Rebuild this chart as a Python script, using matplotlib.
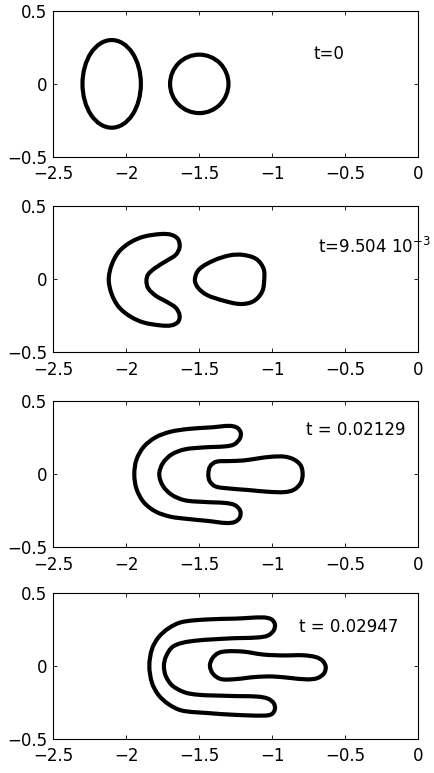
import numpy as np
import matplotlib
matplotlib.use("Agg")
from matplotlib import pyplot as plt
from matplotlib.patches import Ellipse, PathPatch
from matplotlib.path import Path

plt.rcParams["font.family"] = ["DejaVu Sans"]

# panel 1 (t=0): ellipse and circle, centre and full width/height
ellipse_center = (-2.1, 0.0)
ellipse_size = (0.40, 0.60)
circle_center = (-1.5, 0.0)
circle_size = (0.40, 0.40)

# panel 2 (t=9.504e-3)
crescent_x = [-2.12, -2.10, -2.05, -1.97, -1.88, -1.76, -1.69, -1.645, -1.635, -1.66,
              -1.72, -1.80, -1.85, -1.862, -1.85, -1.80, -1.72, -1.66, -1.635, -1.645,
              -1.69, -1.76, -1.88, -1.97, -2.05, -2.10]
crescent_y = [0.0, 0.10, 0.19, 0.255, 0.293, 0.311, 0.305, 0.275, 0.22, 0.17,
              0.13, 0.08, 0.035, -0.01, -0.06, -0.11, -0.155, -0.195, -0.245, -0.29,
              -0.314, -0.315, -0.295, -0.255, -0.19, -0.10]
drop_x = [-1.53, -1.50, -1.40, -1.29, -1.20, -1.11, -1.06, -1.055, -1.07, -1.13,
          -1.22, -1.335, -1.45, -1.51]
drop_y = [0.0, 0.07, 0.13, 0.165, 0.168, 0.14, 0.075, 0.0, -0.085, -0.15,
          -0.168, -0.145, -0.105, -0.055]

# panel 3 (t=0.02129)
u3_x = [-1.945, -1.93, -1.88, -1.80, -1.70, -1.575, -1.415, -1.290, -1.240, -1.216,
        -1.222, -1.260, -1.320, -1.461, -1.600, -1.690, -1.750, -1.774, -1.750, -1.690,
        -1.600, -1.461, -1.320, -1.255, -1.220, -1.222, -1.255, -1.313, -1.438, -1.590,
        -1.700, -1.800, -1.880, -1.930]
u3_y = [0.0, 0.10, 0.188, 0.252, 0.29, 0.310, 0.321, 0.331, 0.318, 0.285,
        0.245, 0.205, 0.191, 0.184, 0.170, 0.135, 0.075, 0.0, -0.078, -0.140,
        -0.178, -0.190, -0.197, -0.212, -0.250, -0.295, -0.326, -0.334, -0.320, -0.305,
        -0.290, -0.255, -0.192, -0.100]
finger3_x = [-1.438, -1.425, -1.385, -1.300, -1.200, -1.100, -1.004, -0.913, -0.850, -0.805,
             -0.792, -0.805, -0.850, -0.913, -1.027, -1.164, -1.301, -1.390, -1.428]
finger3_y = [0.0, 0.055, 0.085, 0.090, 0.094, 0.108, 0.120, 0.120, 0.100, 0.060,
             0.0, -0.060, -0.105, -0.122, -0.120, -0.108, -0.097, -0.083, -0.048]

# panel 4 (t=0.02947)
u4_x = [-1.842, -1.824, -1.780, -1.710, -1.620, -1.449, -1.250, -1.060, -1.004, -0.982,
        -0.990, -1.030, -1.100, -1.300, -1.564, -1.678, -1.728, -1.742, -1.728, -1.678,
        -1.564, -1.300, -1.100, -1.030, -0.990, -0.982, -1.004, -1.060, -1.250, -1.449,
        -1.620, -1.710, -1.780, -1.824]
u4_y = [0.0, 0.115, 0.195, 0.258, 0.300, 0.318, 0.324, 0.332, 0.318, 0.285,
        0.243, 0.208, 0.195, 0.188, 0.168, 0.134, 0.065, -0.003, -0.072, -0.140,
        -0.190, -0.205, -0.210, -0.224, -0.255, -0.295, -0.330, -0.340, -0.335, -0.322,
        -0.305, -0.262, -0.198, -0.115]
finger4_x = [-1.427, -1.410, -1.370, -1.313, -1.199, -1.062, -0.925, -0.788, -0.700, -0.655,
             -0.634, -0.645, -0.690, -0.760, -0.880, -1.000, -1.120, -1.250, -1.350, -1.405]
finger4_y = [0.0, 0.052, 0.088, 0.100, 0.098, 0.078, 0.072, 0.073, 0.060, 0.035,
             -0.005, -0.050, -0.083, -0.092, -0.082, -0.072, -0.076, -0.090, -0.090, -0.055]

labels = ["t=0", r"t=9.504 10$^{-3}$", "t = 0.02129", "t = 0.02947"]
xticks = [-2.5, -2, -1.5, -1, -0.5, 0]
yticks = [-0.5, 0, 0.5]


def closed_curve(xs, ys):
    """smooth closed bezier path going through every point"""
    pts = np.column_stack([xs, ys])
    n = len(pts)
    tang = np.roll(pts, -1, axis=0) - np.roll(pts, 1, axis=0)
    tang = tang / np.hypot(tang[:, 0], tang[:, 1])[:, None]
    verts = [pts[0]]
    codes = [Path.MOVETO]
    for i in range(n):
        a, b = pts[i], pts[(i + 1) % n]
        d = np.hypot(*(b - a)) / 3
        verts += [a + tang[i] * d, b - tang[(i + 1) % n] * d, b]
        codes += [Path.CURVE4] * 3
    verts.append(pts[0])
    codes.append(Path.CLOSEPOLY)
    return PathPatch(Path(verts, codes), fill=False, lw=3, ec="black",
                     joinstyle="round")


fig = plt.figure(figsize=(4.35, 7.73), dpi=100)
bottoms = [0.797, 0.544, 0.292, 0.044]
axes = [fig.add_axes([0.1225, b, 0.839, 0.189]) for b in bottoms]

for ax in axes:
    ax.set_xlim(-2.5, 0)
    ax.set_ylim(-0.5, 0.5)
    ax.set_xticks(xticks)
    ax.set_xticklabels(["\u22122.5", "\u22122", "\u22121.5", "\u22121", "\u22120.5", "0"])
    ax.set_yticks(yticks)
    ax.set_yticklabels(["\u22120.5", "0", "0.5"])
    ax.tick_params(direction="in", top=True, right=True, length=3, width=0.6,
                   labelsize=12, colors="black")
    ax.tick_params(axis="x", pad=6)
    ax.tick_params(axis="y", pad=4.5)
    for sp in ax.spines.values():
        sp.set_linewidth(0.8)

axes[0].add_patch(Ellipse(ellipse_center, *ellipse_size, fill=False, lw=3, ec="black"))
axes[0].add_patch(Ellipse(circle_center, *circle_size, fill=False, lw=3, ec="black"))
axes[1].add_patch(closed_curve(crescent_x, crescent_y))
axes[1].add_patch(closed_curve(drop_x, drop_y))
axes[2].add_patch(closed_curve(u3_x, u3_y))
axes[2].add_patch(closed_curve(finger3_x, finger3_y))
axes[3].add_patch(closed_curve(u4_x, u4_y))
axes[3].add_patch(closed_curve(finger4_x, finger4_y))

text_pos = [(-0.72, 0.17), (-0.69, 0.18), (-0.77, 0.27), (-0.82, 0.232)]
for ax, lab, (tx, ty) in zip(axes, labels, text_pos):
    ax.text(tx, ty, lab, fontsize=12, ha="left", va="baseline", clip_on=False)

fig.savefig("out.png", dpi=100)
